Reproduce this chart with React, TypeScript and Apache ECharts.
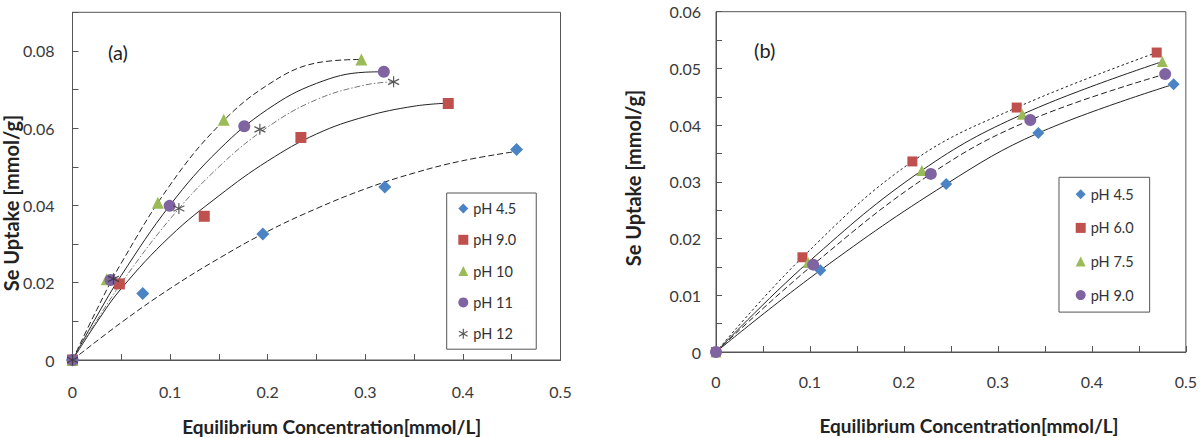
import React, { useEffect, useRef } from "react";
import * as echarts from "echarts";

// ---------- data ----------
const leftNames = ["pH 4.5", "pH 9.0", "pH 10", "pH 11", "pH 12"];
const rightNames = ["pH 4.5", "pH 6.0", "pH 7.5", "pH 9.0"];

// (a) measured points: Equilibrium concentration [mmol/L] vs Se uptake [mmol/g]
const aPh45 = [[0, 0], [0.072, 0.0172], [0.195, 0.0326], [0.32, 0.0448], [0.455, 0.0545]];
const aPh90 = [[0, 0], [0.048, 0.0197], [0.135, 0.0372], [0.234, 0.0576], [0.385, 0.0664]];
const aPh10 = [[0, 0], [0.035, 0.0209], [0.0875, 0.0407], [0.155, 0.0622], [0.296, 0.0778]];
const aPh11 = [[0, 0], [0.039, 0.0207], [0.0995, 0.0399], [0.176, 0.0605], [0.319, 0.0746]];
const aPh12 = [[0, 0], [0.042, 0.021], [0.109, 0.0392], [0.192, 0.0597], [0.329, 0.072]];

// (a) fitted trend lines
const aFit45 = [[0, 0], [0.05, 0.0097], [0.1, 0.0185], [0.15, 0.0263], [0.2, 0.0333], [0.25, 0.0392], [0.3, 0.0443], [0.35, 0.0484], [0.4, 0.0516], [0.455, 0.054]];
const aFit90 = [[0, 0], [0.025, 0.0098], [0.05, 0.0185], [0.1, 0.032], [0.15, 0.0425], [0.2, 0.0515], [0.25, 0.0585], [0.3, 0.063], [0.35, 0.0657], [0.385, 0.0665]];
const aFit10 = [[0, 0], [0.025, 0.0131], [0.05, 0.0251], [0.1, 0.0453], [0.15, 0.0607], [0.2, 0.0712], [0.25, 0.0769], [0.296, 0.0778]];
const aFit11 = [[0, 0], [0.025, 0.0114], [0.05, 0.0219], [0.1, 0.0401], [0.15, 0.0544], [0.2, 0.0649], [0.25, 0.0716], [0.3, 0.0745], [0.319, 0.0746]];
const aFit12 = [[0, 0], [0.025, 0.0103], [0.05, 0.0199], [0.1, 0.0365], [0.15, 0.05], [0.2, 0.0603], [0.25, 0.0674], [0.3, 0.0712], [0.329, 0.072]];

// (b) measured points (trend lines follow the points closely)
const bPh45 = [[0, 0], [0.111, 0.0144], [0.245, 0.0296], [0.343, 0.0386], [0.487, 0.0472]];
const bPh60 = [[0, 0], [0.092, 0.0167], [0.209, 0.0336], [0.32, 0.0431], [0.469, 0.0528]];
const bPh75 = [[0, 0], [0.098, 0.0158], [0.219, 0.032], [0.326, 0.0419], [0.475, 0.0512]];
const bPh90 = [[0, 0], [0.1034, 0.0154], [0.2286, 0.0314], [0.3345, 0.0409], [0.478, 0.049]];

const xTitle = "Equilibrium Concentration[mmol/L]";
const yTitle = "Se Uptake [mmol/g]";

// ---------- styling ----------
const FONT = "Lato, 'Open Sans', sans-serif";
const BLUE = "#4A84C4";
const RED = "#C0504D";
const GREEN = "#9BBB59";
const PURPLE = "#8064A2";
const ASTERISK = "path://M5,0L5,10M0.7,2.5L9.3,7.5M0.7,7.5L9.3,2.5";
const FRAME = "#555";

type Spec = {
  prefix: string;
  grid: number;
  name: string;
  data: number[][];
  fit: number[][];
  symbol: string;
  size: number;
  color: string;
  dash: any;
  lineColor: string;
};

function seriesPair(s: Spec) {
  const isStar = s.symbol === ASTERISK;
  return [
    {
      type: "line",
      name: s.prefix + s.name + " fit",
      xAxisIndex: s.grid,
      yAxisIndex: s.grid,
      data: s.fit,
      smooth: 0.4,
      symbol: "none",
      silent: true,
      z: 2,
      lineStyle: { color: s.lineColor, width: 1, type: s.dash },
    },
    {
      type: "scatter",
      name: s.prefix + s.name,
      xAxisIndex: s.grid,
      yAxisIndex: s.grid,
      data: s.data,
      symbol: s.symbol,
      symbolSize: s.size,
      z: 3,
      itemStyle: isStar
        ? { color: "rgba(0,0,0,0)", borderColor: "#333", borderWidth: 1.2 }
        : { color: s.color, opacity: 1 },
    },
  ];
}

const leftSpecs: Spec[] = [
  { prefix: "a:", grid: 0, name: leftNames[0], data: aPh45, fit: aFit45, symbol: "diamond", size: 13, color: BLUE, dash: [6, 3], lineColor: "#222" },
  { prefix: "a:", grid: 0, name: leftNames[1], data: aPh90, fit: aFit90, symbol: "rect", size: 11, color: RED, dash: "solid", lineColor: "#222" },
  { prefix: "a:", grid: 0, name: leftNames[2], data: aPh10, fit: aFit10, symbol: "triangle", size: 12, color: GREEN, dash: [6, 3], lineColor: "#222" },
  { prefix: "a:", grid: 0, name: leftNames[3], data: aPh11, fit: aFit11, symbol: "circle", size: 12, color: PURPLE, dash: "solid", lineColor: "#222" },
  { prefix: "a:", grid: 0, name: leftNames[4], data: aPh12, fit: aFit12, symbol: ASTERISK, size: 11, color: "#333", dash: [6, 2, 1.5, 2], lineColor: "#777" },
];
const rightSpecs: Spec[] = [
  { prefix: "b:", grid: 1, name: rightNames[0], data: bPh45, fit: bPh45, symbol: "diamond", size: 12, color: BLUE, dash: "solid", lineColor: "#222" },
  { prefix: "b:", grid: 1, name: rightNames[1], data: bPh60, fit: bPh60, symbol: "rect", size: 10, color: RED, dash: [2.5, 2.5], lineColor: "#222" },
  { prefix: "b:", grid: 1, name: rightNames[2], data: bPh75, fit: bPh75, symbol: "triangle", size: 11, color: GREEN, dash: "solid", lineColor: "#222" },
  { prefix: "b:", grid: 1, name: rightNames[3], data: bPh90, fit: bPh90, symbol: "circle", size: 12, color: PURPLE, dash: [6, 3], lineColor: "#222" },
];

function legendItems(specs: Spec[]) {
  return specs.map((s) =>
    s.symbol === ASTERISK
      ? { name: s.prefix + s.name, icon: s.symbol, itemStyle: { color: "rgba(0,0,0,0)", borderColor: "#333", borderWidth: 1.2 } }
      : { name: s.prefix + s.name, icon: s.symbol, itemStyle: { color: s.color } }
  );
}

const near = (v: number, step: number) => Math.abs(v / step - Math.round(v / step)) < 1e-6;

function xAxis(grid: number, margin: number) {
  return {
    type: "value",
    gridIndex: grid,
    min: 0,
    max: 0.5,
    interval: 0.05,
    splitLine: { show: false },
    axisLine: { show: true, lineStyle: { color: FRAME, width: 1 } },
    axisTick: { show: true, inside: true, length: 6, lineStyle: { color: FRAME } },
    axisLabel: {
      margin,
      fontFamily: FONT,
      fontSize: 16,
      color: "#3a3a3a",
      formatter: (v: number) => (near(v, 0.1) ? String(+v.toFixed(1)) : ""),
    },
  };
}

function yAxis(grid: number, max: number, step: number, labelStep: number, margin: number) {
  return {
    type: "value",
    gridIndex: grid,
    min: 0,
    max,
    interval: step,
    splitLine: { show: false },
    axisLine: { show: true, lineStyle: { color: FRAME, width: 1 } },
    axisTick: { show: true, inside: true, length: 6, lineStyle: { color: FRAME } },
    axisLabel: {
      margin,
      fontFamily: FONT,
      fontSize: 16,
      color: "#3a3a3a",
      formatter: (v: number) => (near(v, labelStep) ? String(+v.toFixed(2)) : ""),
    },
  };
}

function title(text: string, x: number, y: number, opts: any = {}) {
  return {
    type: "text",
    x,
    y,
    rotation: opts.rotation || 0,
    silent: true,
    style: {
      text,
      fill: "#222",
      fontFamily: FONT,
      fontSize: opts.size || 19,
      fontWeight: opts.weight || "bold",
      align: "center",
      verticalAlign: "middle",
    },
  };
}

export default function App() {
  const ref = useRef<HTMLDivElement>(null);

  useEffect(() => {
    if (!ref.current) return;
    const chart = echarts.init(ref.current, undefined, { renderer: "svg" });
    const series: any[] = [];
    [...leftSpecs, ...rightSpecs].forEach((s) => series.push(...seriesPair(s)));

    const legendBase = {
      orient: "vertical",
      itemWidth: 10,
      itemHeight: 10,
      selectedMode: false,
      borderColor: FRAME,
      borderWidth: 1,
      borderRadius: 0,
      formatter: (n: string) => n.slice(2),
      textStyle: { fontFamily: FONT, fontSize: 14.5, color: "#333" },
    };

    chart.setOption({
      animation: false,
      backgroundColor: "#fff",
      grid: [
        { left: 72.5, top: 12.3, width: 488, height: 347.7, show: true, borderColor: FRAME, borderWidth: 1, backgroundColor: "transparent" },
        { left: 716, top: 11.7, width: 482, height: 340.3, show: true, borderColor: FRAME, borderWidth: 1, backgroundColor: "transparent" },
      ],
      xAxis: [xAxis(0, 23), xAxis(1, 21)],
      yAxis: [yAxis(0, 0.09, 0.01, 0.02, 18), yAxis(1, 0.06, 0.005, 0.01, 15)],
      legend: [
        {
          ...legendBase,
          left: 446.7,
          top: 193,
          padding: [8, 20, 8, 11.6],
          itemGap: 16.3,
          data: legendItems(leftSpecs),
        },
        {
          ...legendBase,
          left: 1059,
          top: 177.3,
          padding: [9.5, 16, 9.5, 16.7],
          itemGap: 18.6,
          data: legendItems(rightSpecs),
        },
      ],
      graphic: [
        title("(a)", 118, 51.7, { weight: "normal", size: 20 }),
        title("(b)", 764.7, 50, { weight: "normal", size: 20 }),
        title(xTitle, 331.7, 426),
        title(xTitle, 969, 425),
        title(yTitle, 11, 203, { rotation: Math.PI / 2, size: 20 }),
        title(yTitle, 633, 178, { rotation: Math.PI / 2, size: 20 }),
      ],
      series,
    });
    return () => chart.dispose();
  }, []);

  return (
    <div
      ref={ref}
      style={{ position: "fixed", left: 0, top: 0, width: 1200, height: 438, background: "#fff" }}
    />
  );
}
